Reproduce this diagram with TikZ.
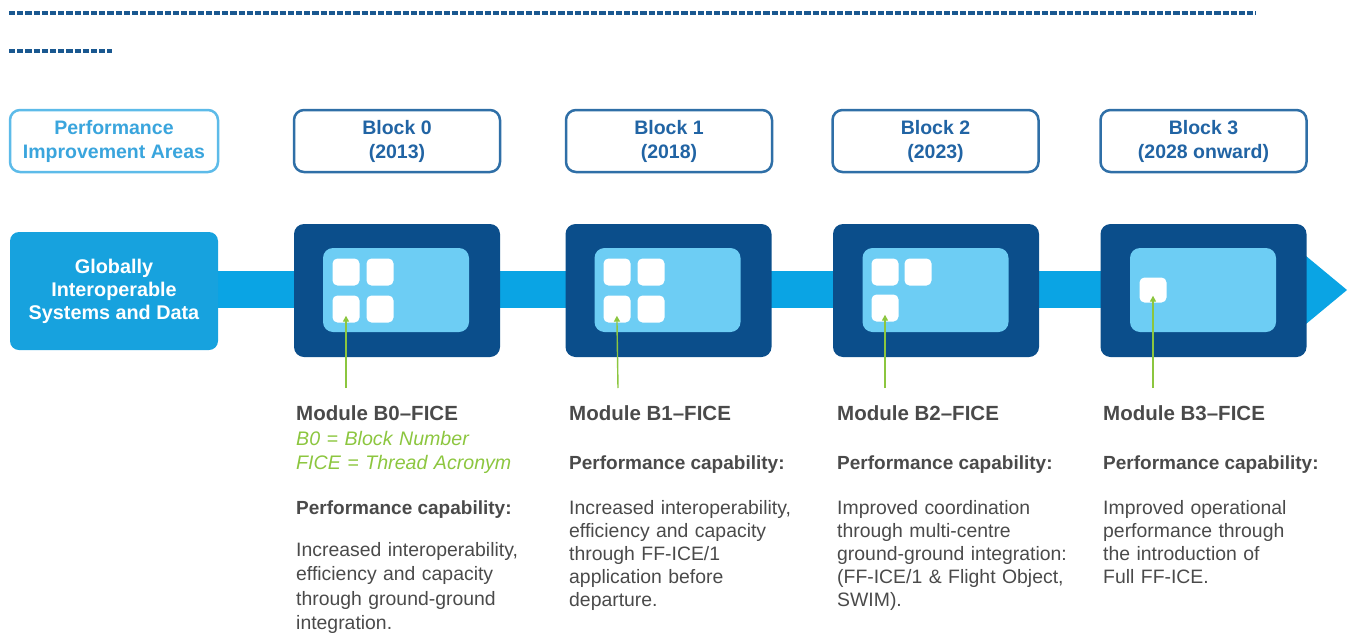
\documentclass[tikz,border=0pt]{standalone}
\usepackage{fontspec}
\setmainfont{Liberation Sans}
\usetikzlibrary{arrows.meta}
\definecolor{dashblue}{HTML}{1A5890}
\definecolor{bandblue}{HTML}{0AA4E4}
\definecolor{gisdblue}{HTML}{17A2DE}
\definecolor{navy}{HTML}{0B4E8B}
\definecolor{innerblue}{HTML}{6DCDF4}
\definecolor{hdrline}{HTML}{2F6FA7}
\definecolor{hdrtext}{HTML}{2164A4}
\definecolor{pialine}{HTML}{5DBBE9}
\definecolor{piatext}{HTML}{3AA5DD}
\definecolor{txtgray}{HTML}{4A4A4A}
\definecolor{leafgreen}{HTML}{8CC63F}
\begin{document}
\begin{tikzpicture}[x=1pt,y=-1pt,
  hdrbox/.style={draw=hdrline, line width=2.5pt, rounded corners=10pt, fill=white, minimum width=206pt, minimum height=62pt, inner sep=0pt, text=hdrtext, font=\bfseries\fontsize{19.5}{24}\selectfont, align=center},
  piabox/.style={hdrbox, draw=pialine, text=piatext, minimum width=208pt},
  modbox/.style={fill=navy, rounded corners=10pt, minimum width=206pt, minimum height=133pt, inner sep=0pt},
  innerbox/.style={fill=innerblue, rounded corners=10pt, minimum width=146pt, minimum height=84pt, inner sep=0pt},
  sq/.style={fill=white, rounded corners=5pt, minimum size=27pt, inner sep=0pt},
  gisd/.style={fill=gisdblue, rounded corners=9pt, minimum width=208pt, minimum height=118pt, inner sep=0pt, text=white, font=\bfseries\fontsize{19.8}{23}\selectfont, align=center},
  garrow/.style={draw=leafgreen, line width=1.4pt, -{Triangle[width=6pt,length=6pt]}, shorten >=-7pt},
  dashline/.style={draw=dashblue, line width=3.4pt, dash pattern=on 6.2pt off 2pt},
  modhead/.style={anchor=base west, inner sep=0pt, text=txtgray, font=\bfseries\fontsize{20.5}{23}\selectfont},
  perfhead/.style={anchor=base west, inner sep=0pt, text=txtgray, font=\bfseries\fontsize{19}{23}\selectfont},
  greentxt/.style={anchor=base west, inner sep=0pt, text=leafgreen, font=\itshape\fontsize{19.6}{24}\selectfont, text width=260pt, align=left},
  bodytxt/.style={anchor=base west, inner sep=0pt, text=txtgray, font=\fontsize{19.4}{23}\selectfont, text width=262pt, align=left},
]
\useasboundingbox (0,0) rectangle (1353,635);

% dashed rules
\coordinate (d1a) at (9,13);
\coordinate (d1b) at (1256,13);
\coordinate (d2a) at (9,51);
\coordinate (d2b) at (112,51);
\draw[dashline] (d1a) -- (d1b);
\draw[dashline] (d2a) -- (d2b);

% header boxes
\node[piabox] (pia) at (114,141) {Performance\\Improvement Areas};
\node[hdrbox] (h0) at (397,141) {Block 0\\(2013)};
\node[hdrbox] (h1) at (669,141) {Block 1\\(2018)};
\node[hdrbox] (h2) at (935.5,141) {Block 2\\(2023)};
\node[hdrbox] (h3) at (1203.5,141) {Block 3\\(2028 onward)};

% band with arrow head
\fill[bandblue] (216,271) rectangle (1308,308);
\fill[bandblue] (1306,256) -- (1347,290) -- (1306,324) -- cycle;

% globally interoperable box
\node[gisd] (gisd) at (114,291) {Globally\\Interoperable\\Systems and Data};

% module boxes
\node[modbox] (m0) at (397,290.5) {};
\node[modbox] (m1) at (668.5,290.5) {};
\node[modbox] (m2) at (936,290.5) {};
\node[modbox] (m3) at (1203.5,290.5) {};
\node[innerbox] (i0) at (396,290) {};
\node[innerbox] (i1) at (667.5,290) {};
\node[innerbox] (i2) at (935.5,290) {};
\node[innerbox] (i3) at (1203,290) {};

% squares
\node[sq] (s0a) at (346,272) {};
\node[sq] (s0b) at (380,272) {};
\node[sq] (s0c) at (346,309) {};
\node[sq] (s0d) at (380,309) {};
\node[sq] (s1a) at (617,272) {};
\node[sq] (s1b) at (651,272) {};
\node[sq] (s1c) at (617,309) {};
\node[sq] (s1d) at (651,309) {};
\node[sq] (s2a) at (885,272) {};
\node[sq] (s2b) at (918,272) {};
\node[sq] (s2c) at (885,308) {};
\node[sq, minimum height=25pt] (s3a) at (1153,290) {};

% green pointers
\coordinate (g0) at (346,388);
\coordinate (g1) at (618,388);
\coordinate (g2) at (885,388);
\coordinate (g3) at (1153,388);
\draw[garrow] (g0) -- (s0c.south);
\draw[garrow] (g1) -- (s1c.south);
\draw[garrow] (g2) -- (s2c.south);
\draw[garrow] (g3) -- (s3a.south);

% texts, column B0
\node[modhead] (t0h) at (296,420) {Module B0--FICE};
\node[greentxt] (t0g) at (296,445) {B0 = Block Number\\FICE = Thread Acronym};
\node[perfhead] (t0p) at (296,514) {Performance capability:};
\node[bodytxt, font=\fontsize{19.4}{24.5}\selectfont] (t0b) at (296,556) {Increased interoperability,\\efficiency and capacity\\through ground-ground\\integration.};

% column B1
\node[modhead] (t1h) at (569,420) {Module B1--FICE};
\node[perfhead] (t1p) at (569,469) {Performance capability:};
\node[bodytxt] (t1b) at (569,514) {Increased interoperability,\\efficiency and capacity\\through FF-ICE/1\\application before\\departure.};

% column B2
\node[modhead] (t2h) at (837,420) {Module B2--FICE};
\node[perfhead] (t2p) at (837,469) {Performance capability:};
\node[bodytxt] (t2b) at (837,514) {Improved coordination\\through multi-centre\\ground-ground integration:\\(FF-ICE/1 \& Flight Object,\\SWIM).};

% column B3
\node[modhead] (t3h) at (1103,420) {Module B3--FICE};
\node[perfhead] (t3p) at (1103,469) {Performance capability:};
\node[bodytxt] (t3b) at (1103,514) {Improved operational\\performance through\\the introduction of\\Full FF-ICE.};
\end{tikzpicture}
\end{document}
